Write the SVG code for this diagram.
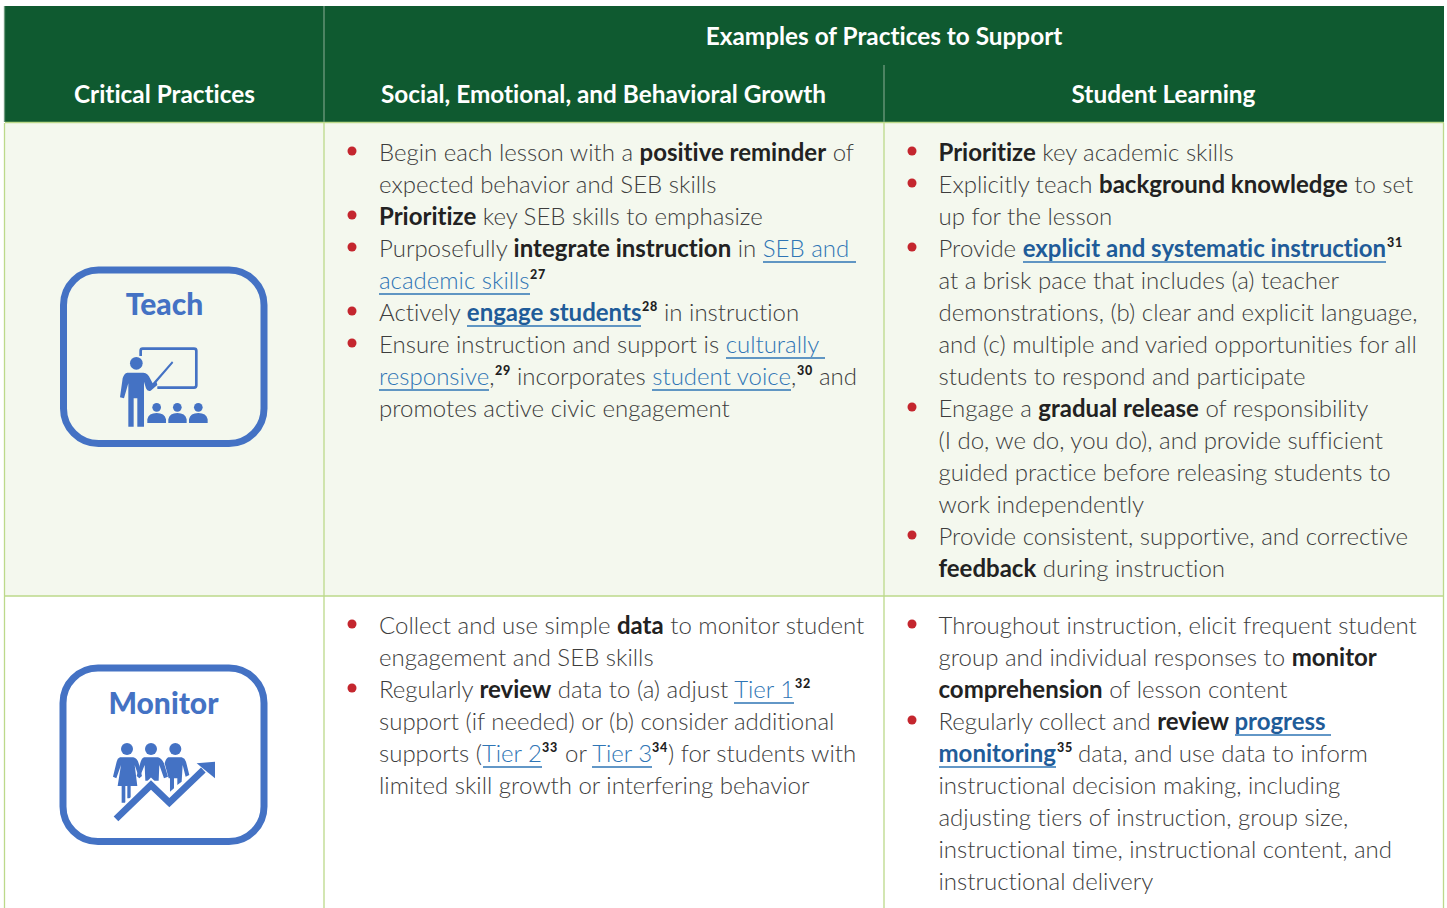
<svg xmlns="http://www.w3.org/2000/svg" width="1447" height="908" viewBox="0 0 1447 908">
<style>
text{font-family:Lato,"Open Sans",sans-serif;font-variant-ligatures:none}
.b{font-size:24px;font-weight:300;fill:#3d3d3d}
.b tspan.s,.s{font-weight:700;fill:#222}
.k{fill:#2f75b5}
.bk{font-weight:700;fill:#1f5c99}
.u{font-size:12.5px;font-weight:900;fill:#1f1f1f;letter-spacing:.7px}
.h{font-size:24.350px;font-weight:700;fill:#fff;text-anchor:middle}
.t{font-weight:900;fill:#4472c4;text-anchor:middle}
.d{fill:#c4262e}
.l{stroke:#2f75b5;stroke-width:1.3;fill:none}
.g{stroke:#bcd98a;stroke-width:1.3;fill:none}
.box{fill:none;stroke:#4472c4;stroke-width:7}
.i{fill:#4472c4}
.il{fill:none;stroke:#4472c4}
</style>
<rect width="1447" height="908" fill="#fff"/>
<g id="backgrounds">
<rect x="5" y="123" width="1438" height="473" fill="#f4f8ee"/>
<rect x="5" y="6" width="1439" height="117" fill="#0f5a30"/>
</g>
<g id="grid">
<path class="g" d="M4.500 123V908M324 123V908M884 123V908M1443.500 123V908M5 596H1444M5 122.500H1444"/>
<path d="M4.500 6V122M324 6V122M884 65V122" stroke="#6f9a7f" stroke-width="1.300" fill="none"/>
</g>
<g id="header">
<text class="h" x="884" y="45">Examples of Practices to Support</text>
<text class="h" x="164.500" y="103">Critical Practices</text>
<text class="h" x="603.500" y="103">Social, Emotional, and Behavioral Growth</text>
<text class="h" x="1163.500" y="103">Student Learning</text>
</g>
<g id="teach-node">
<rect class="box" x="63.500" y="270" width="200.500" height="173.500" rx="35"/>
<text class="t" font-size="30" x="164.500" y="315">Teach</text>
<g transform="translate(40 250) scale(.3333)">
<path class="il" stroke-width="8" d="M302 318V302Q302 296 308 296H462Q469 296 469 302V406Q469 413 462 413H352"/>
<circle class="i" cx="289" cy="340" r="19"/>
<path class="i" d="M262 368H310Q325 370 330 385L338 400L396 334L400 338L350 397L352 405L332 422Q322 425 318 415L312 395V530H292V445H281V530H265V400L252 445L240 442L248 385Q252 370 262 368Z"/>
<circle class="i" cx="350" cy="472" r="13"/><circle class="i" cx="412" cy="472" r="13"/><circle class="i" cx="475" cy="472" r="13"/>
<path class="i" d="M322 519V508Q326 489 350 489Q374 489 378 508V519ZM385 519V508Q389 489 412 489Q436 489 440 508V519ZM447 519V508Q451 489 475 489Q499 489 503 508V519Z"/>
</g>
</g>
<g id="monitor-node">
<rect class="box" x="63" y="668" width="201" height="173.500" rx="35"/>
<text class="t" font-size="30" x="163.500" y="714">Monitor</text>
<g transform="translate(40 650) scale(.3333)">
<circle class="i" cx="261" cy="297" r="18"/><circle class="i" cx="333" cy="297" r="18"/><circle class="i" cx="406" cy="297" r="18"/>
<path class="i" d="M240 322H280Q292 325 296 340L306 378L298 385L284 345L292 408H272V445H262V408H256V458H245V408H233L243 345L229 385L219 380L230 335Q232 325 240 322Z"/>
<path class="i" d="M312 322H354Q365 325 372 340L384 380L372 385L358 345L356 392H316L314 345L298 385L290 378L302 335Q305 325 312 322Z"/>
<path class="i" d="M385 322H425Q435 325 438 335L448 375L437 380L428 345L425 395L412 405V385H402V415L390 425V385H386L374 340Q378 325 385 322Z"/>
<path class="il" style="stroke:#fff" stroke-width="32" d="M228 507L333 405L388 458L490 360"/>
<path class="il" stroke-width="20" d="M228 507L333 405L388 458L490 360"/>
<path class="i" d="M470 340L525 335V385Z"/>
</g>
</g>
<g id="teach-seb">
<g class="d"><circle cx="352" cy="151" r="4.500"/><circle cx="352" cy="215" r="4.500"/><circle cx="352" cy="247" r="4.500"/><circle cx="352" cy="311" r="4.500"/><circle cx="352" cy="343" r="4.500"/></g>
<text class="b" x="379" y="161">Begin each lesson with a <tspan class="s">positive reminder</tspan> of</text>
<text class="b" x="379" y="193">expected behavior and SEB skills</text>
<text class="b" x="379" y="225"><tspan class="s">Prioritize</tspan> key SEB skills to emphasize</text>
<text class="b" x="379" y="257">Purposefully <tspan class="s">integrate instruction</tspan> in <tspan class="k">SEB and</tspan></text>
<text class="b k" x="379" y="289">academic skills</text><text class="u" x="530" y="279">27</text>
<text class="b" x="379" y="321">Actively <tspan class="bk">engage students</tspan></text><text class="u" x="642" y="311">28</text><text class="b" x="664" y="321">in instruction</text>
<text class="b" x="379" y="353">Ensure instruction and support is <tspan class="k">culturally</tspan></text>
<text class="b" x="379" y="385"><tspan class="k">responsive</tspan>,</text><text class="u" x="495" y="375">29</text><text class="b" x="517" y="385">incorporates <tspan class="k">student voice</tspan>,</text><text class="u" x="797" y="375">30</text><text class="b" x="819" y="385">and</text>
<text class="b" x="379" y="417">promotes active civic engagement</text>
<path class="l" d="M763 262H856M379 294H530M467 326H641M726 358H825M379 390H489M652 390H791"/>
</g>
<g id="teach-learning">
<g class="d"><circle cx="912" cy="151" r="4.500"/><circle cx="912" cy="183" r="4.500"/><circle cx="912" cy="247" r="4.500"/><circle cx="912" cy="407" r="4.500"/><circle cx="912" cy="535" r="4.500"/></g>
<text class="b" x="938.500" y="161"><tspan class="s">Prioritize</tspan> key academic skills</text>
<text class="b" x="938.500" y="193">Explicitly teach <tspan class="s">background knowledge</tspan> to set</text>
<text class="b" x="938.500" y="225">up for the lesson</text>
<text class="b" x="938.500" y="257">Provide <tspan class="bk">explicit and systematic instruction</tspan></text><text class="u" x="1387" y="247">31</text>
<text class="b" x="938.500" y="289">at a brisk pace that includes (a) teacher</text>
<text class="b" x="938.500" y="321">demonstrations, (b) clear and explicit language,</text>
<text class="b" x="938.500" y="353">and (c) multiple and varied opportunities for all</text>
<text class="b" x="938.500" y="385">students to respond and participate</text>
<text class="b" x="938.500" y="417">Engage a <tspan class="s">gradual release</tspan> of responsibility</text>
<text class="b" x="938.500" y="449">(I do, we do, you do), and provide sufficient</text>
<text class="b" x="938.500" y="481">guided practice before releasing students to</text>
<text class="b" x="938.500" y="513">work independently</text>
<text class="b" x="938.500" y="545">Provide consistent, supportive, and corrective</text>
<text class="b" x="938.500" y="577"><tspan class="s">feedback</tspan> during instruction</text>
<path class="l" d="M1023 262H1386"/>
</g>
<g id="monitor-seb">
<g class="d"><circle cx="352" cy="624" r="4.500"/><circle cx="352" cy="688" r="4.500"/></g>
<text class="b" x="379" y="634">Collect and use simple <tspan class="s">data</tspan> to monitor student</text>
<text class="b" x="379" y="666">engagement and SEB skills</text>
<text class="b" x="379" y="698">Regularly <tspan class="s">review</tspan> data to (a) adjust <tspan class="k">Tier 1</tspan></text><text class="u" x="795" y="688">32</text>
<text class="b" x="379" y="730">support (if needed) or (b) consider additional</text>
<text class="b" x="379" y="762">supports (<tspan class="k">Tier 2</tspan></text><text class="u" x="542" y="752">33</text><text class="b" x="565" y="762">or <tspan class="k">Tier 3</tspan></text><text class="u" x="652" y="752">34</text><text class="b" x="668" y="762">) for students with</text>
<text class="b" x="379" y="794">limited skill growth or interfering behavior</text>
<path class="l" d="M734 703H794M483 767H542M592 767H652"/>
</g>
<g id="monitor-learning">
<g class="d"><circle cx="912" cy="624" r="4.500"/><circle cx="912" cy="720" r="4.500"/></g>
<text class="b" x="938.500" y="634">Throughout instruction, elicit frequent student</text>
<text class="b" x="938.500" y="666">group and individual responses to <tspan class="s">monitor</tspan></text>
<text class="b" x="938.500" y="698"><tspan class="s">comprehension</tspan> of lesson content</text>
<text class="b" x="938.500" y="730">Regularly collect and <tspan class="s">review</tspan> <tspan class="bk" dx="-1">progress</tspan></text>
<text class="b" x="938.500" y="762"><tspan class="bk">monitoring</tspan></text><text class="u" x="1057" y="752">35</text><text class="b" x="1078" y="762">data, and use data to inform</text>
<text class="b" x="938.500" y="794">instructional decision making, including</text>
<text class="b" x="938.500" y="826">adjusting tiers of instruction, group size,</text>
<text class="b" x="938.500" y="858">instructional time, instructional content, and</text>
<text class="b" x="938.500" y="890">instructional delivery</text>
<path class="l" d="M1235 735H1331M939 767H1056"/>
</g>
</svg>
